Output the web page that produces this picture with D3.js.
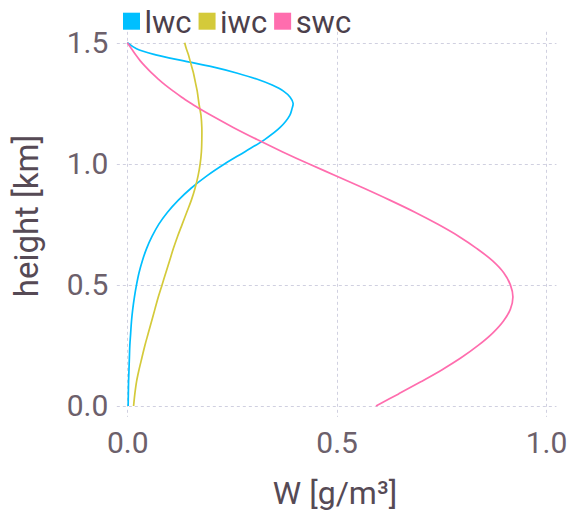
<!DOCTYPE html>
<html>
<head>
<meta charset="utf-8">
<script src="https://cdn.jsdelivr.net/npm/d3@7"></script>
<style>
  html, body { margin: 0; padding: 0; background: #fff; }
  svg { display: block; }
</style>
</head>
<body>
<svg id="chart" width="569" height="513"></svg>
<script>
// ---- data ----
const heights = [0, 0.05, 0.1, 0.15, 0.2, 0.25, 0.3, 0.35, 0.4, 0.45, 0.5, 0.55, 0.6, 0.65, 0.7, 0.75, 0.8, 0.85, 0.9, 0.95, 1.0, 1.05, 1.1, 1.15, 1.2,
                 1.225, 1.25, 1.275, 1.3, 1.325, 1.35, 1.375, 1.4, 1.425, 1.45, 1.475, 1.5];
const lwc = [0.002, 0.0025, 0.003, 0.004, 0.005, 0.006, 0.008, 0.010, 0.013, 0.017, 0.022, 0.028, 0.036, 0.046, 0.059, 0.075, 0.096, 0.122, 0.153, 0.190, 0.233, 0.281, 0.328, 0.365, 0.388,
             0.393, 0.396, 0.389, 0.373, 0.346, 0.309, 0.261, 0.204, 0.135, 0.068, 0.022, 0];
const iwc = [0.015, 0.018, 0.022, 0.028, 0.035, 0.042, 0.050, 0.058, 0.066, 0.074, 0.083, 0.092, 0.101, 0.110, 0.120, 0.131, 0.142, 0.153, 0.162, 0.169, 0.174, 0.177, 0.178, 0.178, 0.176,
             0.1735, 0.171, 0.169, 0.167, 0.164, 0.161, 0.158, 0.154, 0.150, 0.146, 0.141, 0.137];
const swc = [0.594, 0.648, 0.701, 0.752, 0.798, 0.838, 0.872, 0.898, 0.915, 0.921, 0.915, 0.899, 0.872, 0.835, 0.792, 0.742, 0.687, 0.627, 0.564, 0.499, 0.433, 0.370, 0.310, 0.253, 0.200,
             0.175, 0.152, 0.130, 0.110, 0.091, 0.074, 0.058, 0.044, 0.031, 0.020, 0.010, 0];
const seriesNames = ["lwc", "iwc", "swc"];
const seriesColors = ["#00BFFF", "#D4CA3A", "#FF6DAE"];
const xTicks = [0, 0.5, 1.0];
const yTicks = [0, 0.5, 1.0, 1.5];
const xLabel = "W [g/m³]";
const yLabel = "height [km]";

const series = [lwc, iwc, swc];
const FONT = "Roboto, 'Open Sans', sans-serif";

const svg = d3.select("#chart");
const x = d3.scaleLinear().domain([0, 1]).range([127.3, 546]);
const y = d3.scaleLinear().domain([0, 1.5]).range([406, 42.7]);
const xPad = 0.025, yPad = 0.045;

// grid
const grid = svg.append("g").attr("stroke", "#D0D0E0").attr("stroke-width", 1)
  .attr("stroke-dasharray", "3,3").attr("fill", "none");
grid.selectAll("line.v").data(xTicks).join("line").attr("class", "v")
  .attr("x1", d => Math.round(x(d)) + 0.5).attr("x2", d => Math.round(x(d)) + 0.5)
  .attr("y1", y(1.5 + yPad)).attr("y2", y(0 - yPad));
grid.selectAll("line.h").data(yTicks).join("line").attr("class", "h")
  .attr("y1", d => Math.round(y(d)) + 0.5).attr("y2", d => Math.round(y(d)) + 0.5)
  .attr("x1", x(-xPad)).attr("x2", x(1 + xPad));

// axes (labels only)
const xAxis = svg.append("g").attr("transform", `translate(0,${y(0 - yPad)})`)
  .call(d3.axisBottom(x).tickValues(xTicks).tickFormat(d3.format(".1f")).tickSize(0).tickPadding(15));
const yAxis = svg.append("g").attr("transform", `translate(${x(-xPad)},0)`)
  .call(d3.axisLeft(y).tickValues(yTicks).tickFormat(d3.format(".1f")).tickSize(0).tickPadding(8.5));
[xAxis, yAxis].forEach(a => {
  a.select(".domain").remove();
  a.selectAll("text").attr("font-family", FONT).attr("font-size", 30).attr("fill", "#6c606b");
});

// lines
const line = d3.line()
  .x(d => x(d[0]))
  .y(d => y(d[1]))
  .curve(d3.curveCatmullRom.alpha(0.5));
series.forEach((vals, i) => {
  svg.append("path")
    .datum(vals.map((v, j) => [v, heights[j]]))
    .attr("d", line)
    .attr("fill", "none")
    .attr("stroke", seriesColors[i])
    .attr("stroke-width", 1.7)
    .attr("stroke-linejoin", "round");
});

// axis titles
svg.append("text").attr("x", 335).attr("y", 504).attr("text-anchor", "middle")
  .attr("font-family", FONT).attr("font-size", 32).attr("fill", "#564a55").text(xLabel);
svg.append("text").attr("transform", "translate(38,216) rotate(-90)").attr("text-anchor", "middle")
  .attr("font-family", FONT).attr("font-size", 33).attr("fill", "#564a55").text(yLabel);

// legend
const legend = svg.append("g");
let lx = 123;
seriesNames.forEach((name, i) => {
  legend.append("rect").attr("x", lx).attr("y", 12.7).attr("width", 17).attr("height", 17)
    .attr("fill", seriesColors[i]);
  const t = legend.append("text").attr("x", lx + 21.5).attr("y", 32.5)
    .attr("font-family", FONT).attr("font-size", 31).attr("fill", "#4c404b").text(name);
  lx += 21.5 + t.node().getComputedTextLength() + 7;
});
</script>
</body>
</html>
